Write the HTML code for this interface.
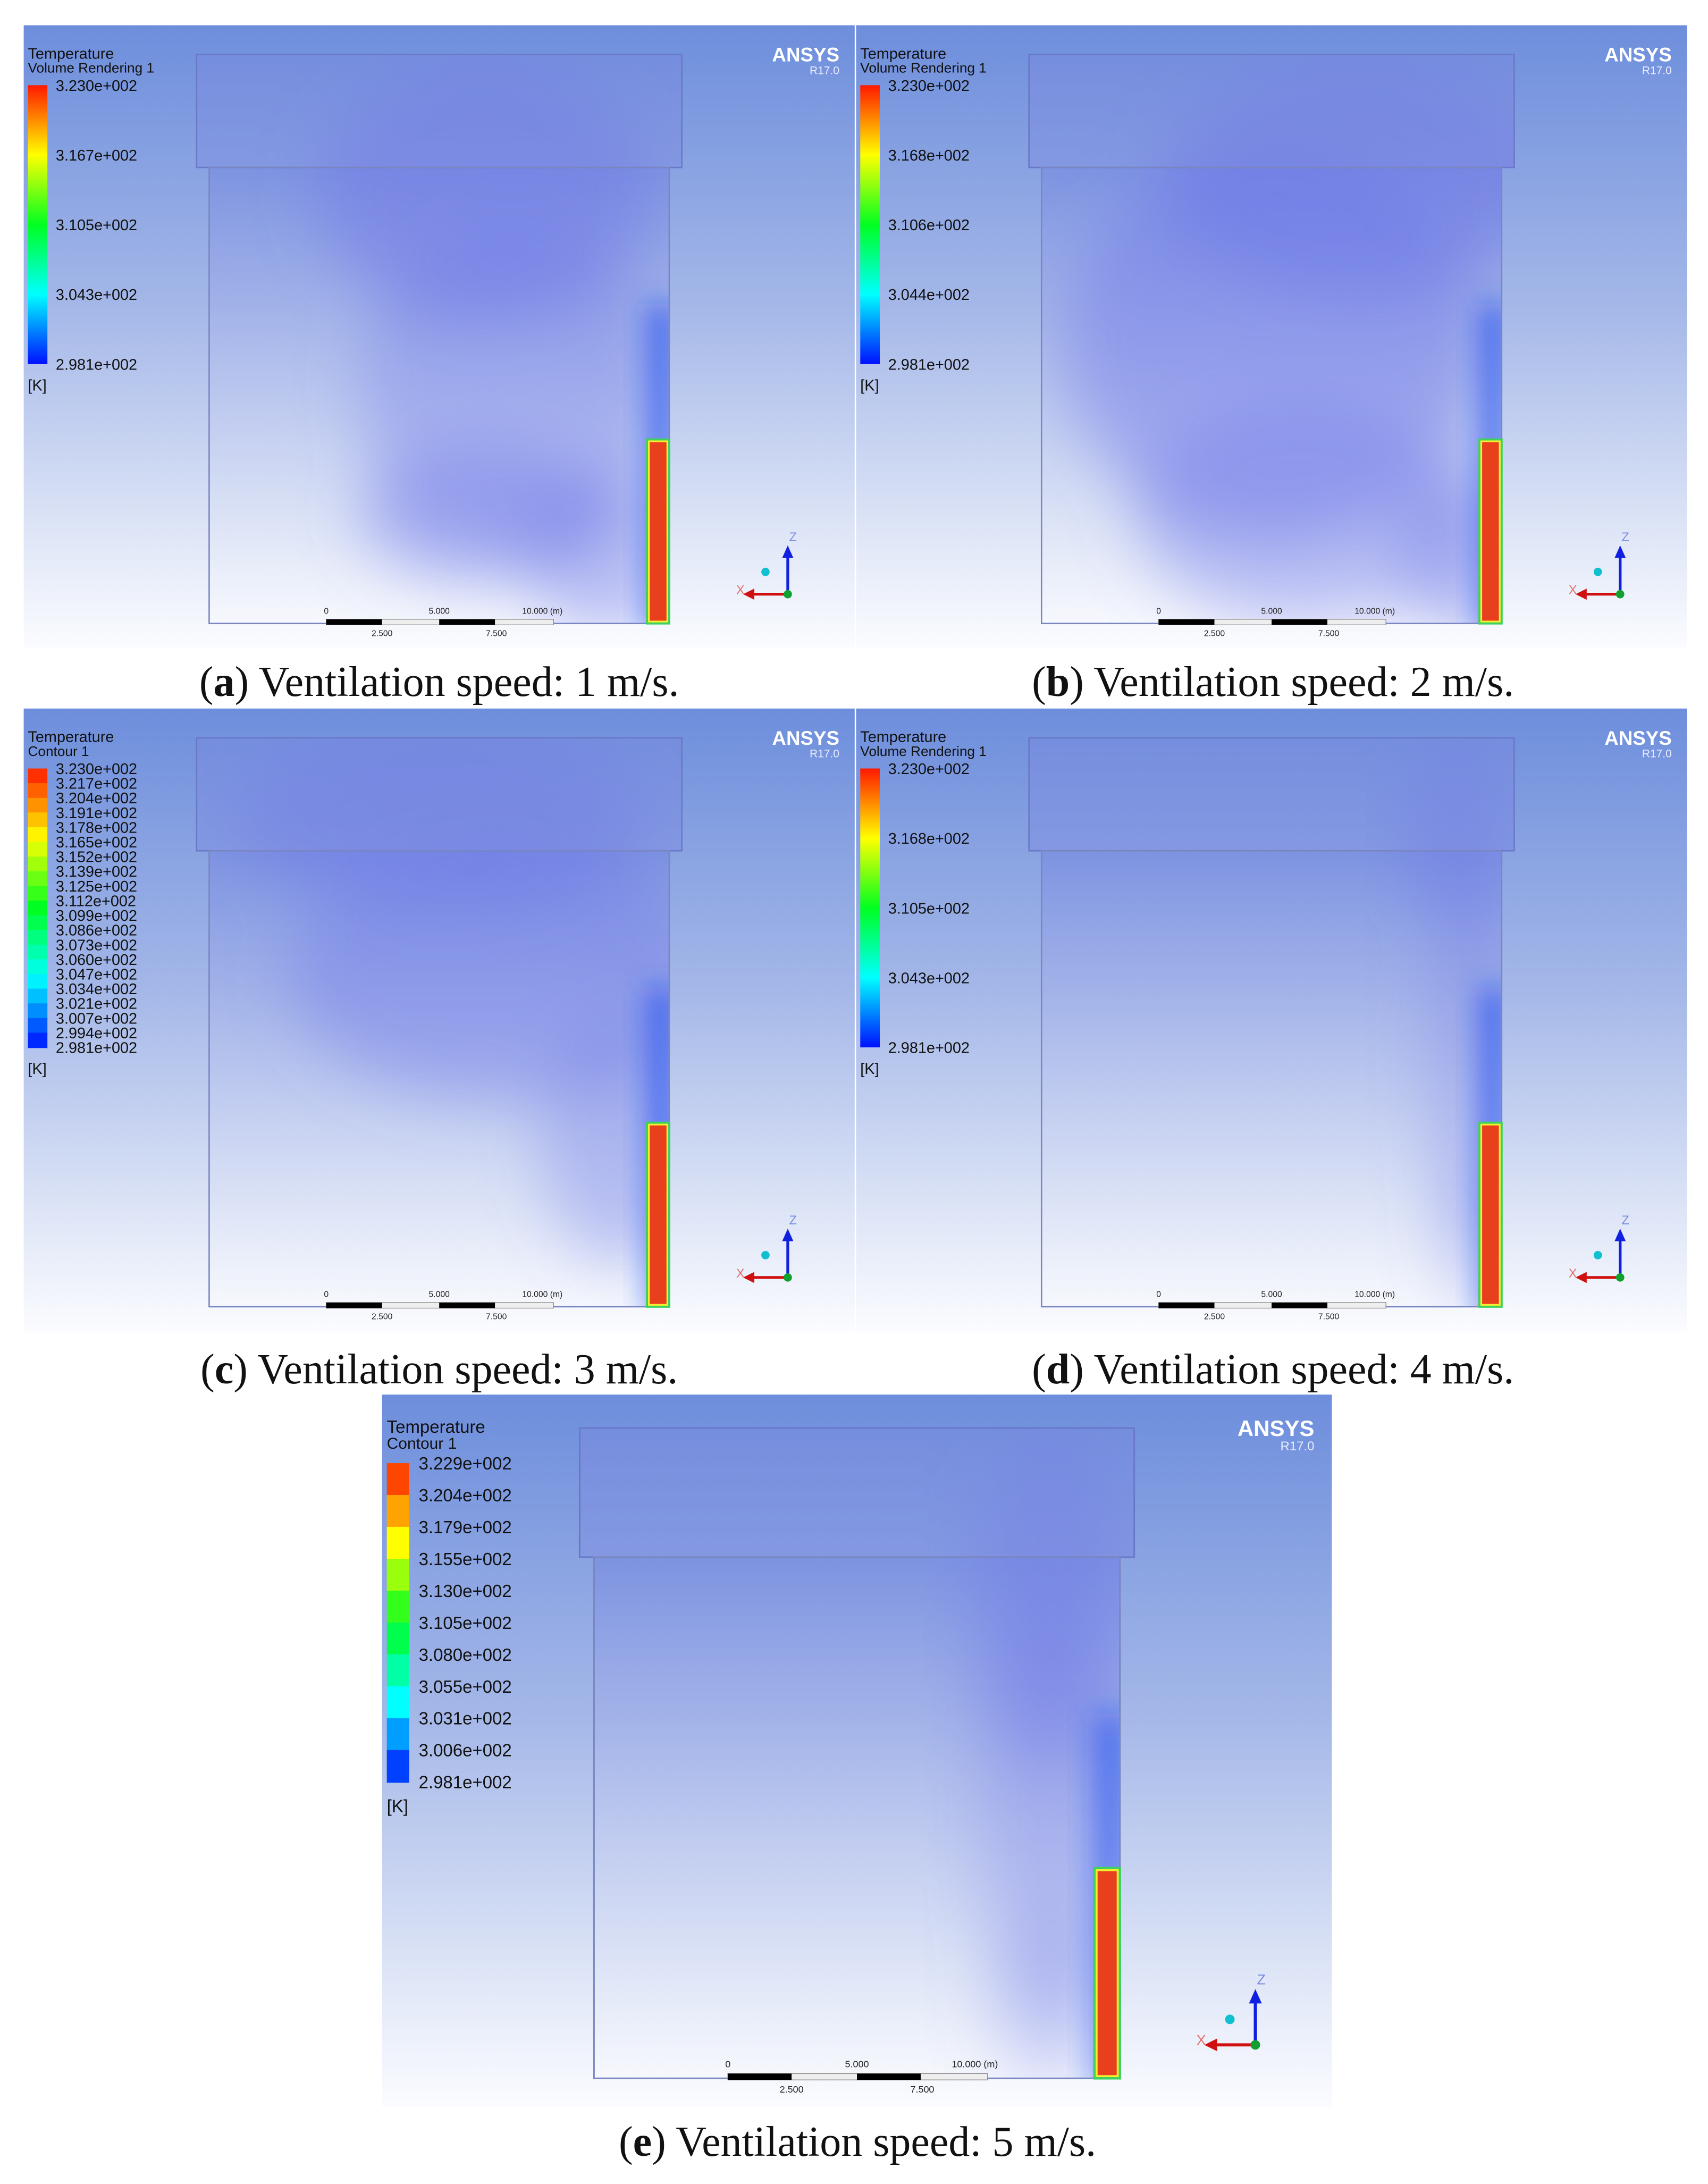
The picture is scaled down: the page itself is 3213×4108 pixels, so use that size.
<!DOCTYPE html>
<html><head><meta charset="utf-8"><style>
html,body{margin:0;padding:0;background:#fff;}
svg{display:block;}
</style></head><body>
<svg id="fig" width="3213" height="4108" viewBox="0 0 1225 1566" xmlns="http://www.w3.org/2000/svg">
<defs>
<linearGradient id="bg" x1="0" y1="0" x2="0" y2="1">
<stop offset="0" stop-color="#6d8edc"/><stop offset="0.45" stop-color="#a4b7e8"/><stop offset="0.85" stop-color="#e4eaf8"/><stop offset="1" stop-color="#fbfcff"/>
</linearGradient>
<linearGradient id="cbar" x1="0" y1="1" x2="0" y2="0">
<stop offset="0" stop-color="#0010ff"/><stop offset="0.25" stop-color="#00ffff"/><stop offset="0.5" stop-color="#00ff20"/><stop offset="0.75" stop-color="#ffff00"/><stop offset="1" stop-color="#ff1800"/>
</linearGradient>
<linearGradient id="roomfill" x1="0" y1="0" x2="0" y2="1">
<stop offset="0" stop-color="#7486e0" stop-opacity="0.55"/><stop offset="1" stop-color="#ffffff" stop-opacity="0.15"/>
</linearGradient>
<filter id="blur" x="-30%" y="-30%" width="160%" height="160%"><feGaussianBlur stdDeviation="22"/></filter>
<filter id="blur2" x="-100%" y="-30%" width="300%" height="160%"><feGaussianBlur stdDeviation="10"/></filter>
<clipPath id="roomclip"><rect x="124" y="21" width="348" height="81"/><rect x="133" y="101" width="330" height="328"/></clipPath>
</defs>
<g id="panels"></g>
<g id="captions" font-family="Liberation Serif, serif" font-size="30.5" fill="#111" text-anchor="middle"></g>
</svg>
<script>
const NS='http://www.w3.org/2000/svg';
const panelIds=['a','b','c','d','e'];
const panelX=[17,614,17,614,274];
const panelY=[18,18,508,508,1000];
const panelScale=[1,1,1,1,1.143];
const panelSubtitle=['Volume Rendering 1','Volume Rendering 1','Contour 1','Volume Rendering 1','Contour 1'];
const legendA=['3.230e+002','3.167e+002','3.105e+002','3.043e+002','2.981e+002'];
const legendB=['3.230e+002','3.168e+002','3.106e+002','3.044e+002','2.981e+002'];
const legendC=['3.230e+002','3.217e+002','3.204e+002','3.191e+002','3.178e+002','3.165e+002','3.152e+002','3.139e+002','3.125e+002','3.112e+002','3.099e+002','3.086e+002','3.073e+002','3.060e+002','3.047e+002','3.034e+002','3.021e+002','3.007e+002','2.994e+002','2.981e+002'];
const legendD=['3.230e+002','3.168e+002','3.105e+002','3.043e+002','2.981e+002'];
const legendE=['3.229e+002','3.204e+002','3.179e+002','3.155e+002','3.130e+002','3.105e+002','3.080e+002','3.055e+002','3.031e+002','3.006e+002','2.981e+002'];
const legends=[legendA,legendB,legendC,legendD,legendE];
const discrete=[false,false,true,false,true];
const speeds=[1,2,3,4,5];
const captionX=[315,913,315,913,615];
const captionY=[499,499,992,992,1546];
const plumes=[
 [[330,120,120,90,0.5],[350,260,110,120,0.35],[330,350,90,50,0.45],[420,380,60,60,0.4]],
 [[360,110,140,80,0.5],[300,230,150,140,0.45],[320,350,120,80,0.4],[440,380,50,60,0.45]],
 [[300,80,150,60,0.45],[340,190,150,90,0.4],[430,310,60,90,0.35]],
 [[430,90,40,60,0.4],[440,250,30,140,0.3],[445,380,25,60,0.25]],
 [[420,130,50,100,0.4],[420,260,45,140,0.3],[420,380,35,60,0.25]]
];
function mk(tag,attrs,parent){const e=document.createElementNS(NS,tag);for(const k in attrs)e.setAttribute(k,attrs[k]);if(parent)parent.appendChild(e);return e;}
function colorAt(t){
 const stops=[[0,[0,16,255]],[0.25,[0,255,255]],[0.5,[0,255,32]],[0.75,[255,255,0]],[1,[255,24,0]]];
 for(let i=0;i<stops.length-1;i++){const a=stops[i],b=stops[i+1];if(t<=b[0]){const f=(t-a[0])/(b[0]-a[0]);return 'rgb('+a[1].map((v,j)=>Math.round(v+(b[1][j]-v)*f)).join(',')+')';}}
 return 'rgb(255,24,0)';
}
const root=document.getElementById('panels');
const caps=document.getElementById('captions');
panelIds.forEach((id,i)=>{
 const g=mk('g',{transform:`translate(${panelX[i]},${panelY[i]}) scale(${panelScale[i]})`},root);
 
 
 mk('rect',{x:0,y:0,width:596,height:447,fill:'url(#bg)'},g);
 const room=mk('g',{'clip-path':'url(#roomclip)'},g);
 
 
 mk('rect',{x:133,y:102,width:330,height:327,fill:'url(#roomfill)'},room);
 const pl=mk('g',{filter:'url(#blur)'},room);
 plumes[i].forEach(p=>{mk('ellipse',{cx:p[0],cy:p[1],rx:p[2],ry:p[3],fill:'#6f78e8','fill-opacity':p[4]},pl);});
 mk('rect',{x:448,y:200,width:18,height:240,fill:'#2048f0','fill-opacity':0.7,filter:'url(#blur2)'},room);
 mk('rect',{x:124,y:21,width:348,height:81,fill:'#7a86df','fill-opacity':0.35,stroke:'#6a78c8','stroke-width':1},g);
 mk('rect',{x:133,y:102,width:330,height:327,fill:'none',stroke:'#7a86c0','stroke-width':1},g);
 const h=mk('g',{},g);
 
 
 mk('rect',{x:447,y:297,width:16,height:132,fill:'#f2ee30',stroke:'#40d060','stroke-width':1.5},h);
 mk('rect',{x:449,y:299,width:12,height:128,fill:'#e8401c'},h);
 const cb=mk('g',{},g);
 
 
 const t1=mk('text',{x:3,y:24,'font-family':'Liberation Sans, sans-serif','font-size':11,fill:'#111'},cb);t1.textContent='Temperature';
 const t2=mk('text',{x:3,y:34,'font-family':'Liberation Sans, sans-serif','font-size':10,fill:'#111'},cb);t2.textContent=panelSubtitle[i];
 const labs=legends[i];const top=43,bot=243,n=labs.length;
 if(discrete[i]){
  const bands=n-1;
  for(let k=0;k<bands;k++){const y0=top+(bot-top)*k/bands;mk('rect',{x:3,y:y0,width:14,height:(bot-top)/bands+0.5,fill:colorAt(1-(k+0.5)/bands)},cb);}
 } else mk('rect',{x:3,y:top,width:14,height:bot-top,fill:'url(#cbar)'},cb);
 labs.forEach((s,k)=>{const y=top+(bot-top)*k/(n-1);const t=mk('text',{x:23,y:y+4,'font-family':'Liberation Sans, sans-serif','font-size':11,fill:'#111'},cb);t.textContent=s;});
 const kt=mk('text',{x:3,y:bot+19,'font-family':'Liberation Sans, sans-serif','font-size':11,fill:'#111'},cb);kt.textContent='[K]';
 const lg=mk('g',{},g);
 
 
 const a1=mk('text',{x:585,y:26,'text-anchor':'end','font-family':'Liberation Sans, sans-serif','font-size':14,'font-weight':'bold',fill:'#fff'},lg);a1.textContent='ANSYS';
 const a2=mk('text',{x:585,y:35,'text-anchor':'end','font-family':'Liberation Sans, sans-serif','font-size':8,fill:'#e8ecff'},lg);a2.textContent='R17.0';
 const sb=mk('g',{'font-family':'Liberation Sans, sans-serif','font-size':6,fill:'#222'},g);
 
 
 mk('rect',{x:217,y:426,width:163,height:4,fill:'#eee',stroke:'#888','stroke-width':0.5},sb);
 mk('rect',{x:217,y:426,width:40,height:4,fill:'#000'},sb);
 mk('rect',{x:298,y:426,width:40,height:4,fill:'#000'},sb);
 [['0',217,422],['5.000',298,422],['10.000  (m)',372,422],['2.500',257,438],['7.500',339,438]].forEach(d=>{const t=mk('text',{x:d[1],y:d[2],'text-anchor':'middle'},sb);t.textContent=d[0];});
 const ax=mk('g',{},g);
 
 
 mk('line',{x1:548,y1:408,x2:548,y2:380,stroke:'#1020e0','stroke-width':2},ax);
 mk('polygon',{points:'544,382 552,382 548,373',fill:'#1020e0'},ax);
 mk('line',{x1:548,y1:408,x2:522,y2:408,stroke:'#d01010','stroke-width':2},ax);
 mk('polygon',{points:'524,404 524,412 516,408',fill:'#d01010'},ax);
 mk('circle',{cx:548,cy:408,r:3,fill:'#10a030'},ax);
 mk('circle',{cx:532,cy:392,r:3,fill:'#10c0d0'},ax);
 const zt=mk('text',{x:549,y:370,'font-family':'Liberation Sans, sans-serif','font-size':9,fill:'#7b8ce0'},ax);zt.textContent='Z';
 const xt=mk('text',{x:511,y:408,'font-family':'Liberation Sans, sans-serif','font-size':9,fill:'#e07070'},ax);xt.textContent='X';
 const c=mk('text',{x:captionX[i],y:captionY[i]},caps);
 
 
 c.appendChild(document.createTextNode('('));
 const b=mk('tspan',{'font-weight':'bold'},c);b.textContent=id;
 c.appendChild(document.createTextNode(') Ventilation speed: '+speeds[i]+' m/s.'));
});
</script>
</body></html>
